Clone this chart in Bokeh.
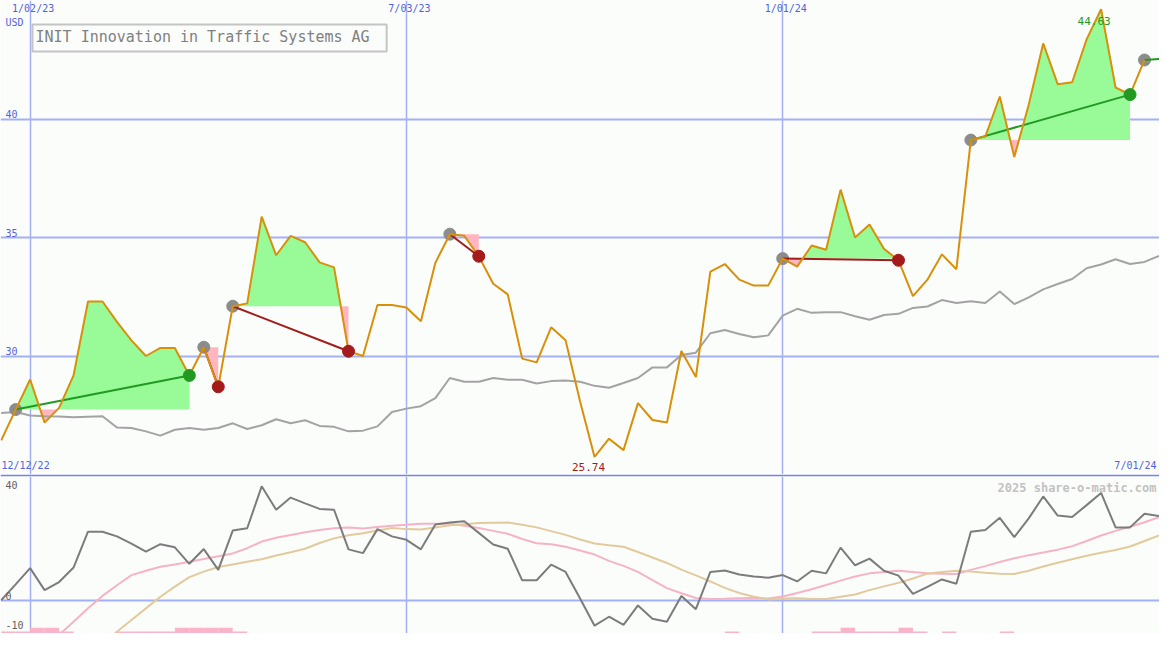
import numpy as np
import pandas as pd
from bokeh.plotting import figure
from bokeh.layouts import column
from bokeh.models import Range1d, FixedTicker, Label
from bokeh.core.properties import value
from bokeh.embed import file_html
from bokeh.resources import INLINE

# ---------------- data ----------------
weeks = pd.date_range("2022-12-19", periods=81, freq="7D")   # weekly dates, last = 2024-07-01

price = [26.44, 27.74, 29.01, 27.19, 27.81, 29.18, 32.30, 32.30, 31.44, 30.66,
         30.00, 30.34, 30.34, 29.18, 30.37, 28.70, 32.10, 32.22, 35.88, 34.25,
         35.07, 34.80, 33.95, 33.74, 30.20, 30.00, 32.15, 32.15, 32.05, 31.47,
         33.93, 35.14, 35.07, 34.21, 33.05, 32.60, 29.89, 29.73, 31.21, 30.66,
         28.08, 25.74, 26.51, 26.03, 28.01, 27.30, 27.19, 30.21, 29.11, 33.56,
         33.88, 33.22, 32.97, 32.97, 34.11, 33.77, 34.66, 34.48, 37.02, 35.00,
         35.55, 34.52, 34.04, 32.53, 33.22, 34.29, 33.66, 39.11, 39.26, 40.95,
         38.40, 40.60, 43.19, 41.47, 41.55, 43.36, 44.63, 41.33, 41.03, 42.49]

compare = [27.60, 27.64, 27.49, 27.46, 27.45, 27.42, 27.44, 27.46, 26.98, 26.96,
           26.82, 26.64, 26.89, 26.96, 26.89, 26.96, 27.16, 26.92, 27.08, 27.33,
           27.16, 27.29, 27.05, 27.01, 26.82, 26.85, 27.03, 27.64, 27.78, 27.88,
           28.22, 29.07, 28.91, 28.91, 29.07, 29.00, 29.00, 28.84, 28.94, 28.97,
           28.91, 28.74, 28.66, 28.86, 29.07, 29.52, 29.52, 30.04, 30.14, 30.96,
           31.10, 30.93, 30.79, 30.87, 31.70, 31.99, 31.82, 31.85, 31.85, 31.68,
           31.53, 31.73, 31.78, 32.03, 32.09, 32.36, 32.24, 32.31, 32.24, 32.72,
           32.19, 32.47, 32.81, 33.04, 33.25, 33.70, 33.86, 34.08, 33.88, 33.97,
           34.22]

osc = [0.0, 5.5, 11.1, 3.5, 6.3, 11.3, 23.7, 23.7, 22.1, 19.6,
       16.8, 19.4, 18.3, 12.6, 17.7, 10.5, 24.1, 24.9, 39.4, 31.3,
       35.5, 33.5, 31.6, 31.3, 17.6, 16.3, 24.6, 22.1, 20.9, 17.6,
       26.2, 26.9, 27.3, 23.3, 19.3, 17.8, 6.9, 6.9, 12.3, 9.8,
       0.6, -8.8, -5.7, -8.5, -1.8, -6.4, -7.4, 1.5, -3.1, 9.8,
       10.3, 8.9, 8.2, 7.8, 8.7, 6.5, 10.2, 9.3, 18.2, 12.1,
       14.4, 10.2, 8.5, 2.2, 4.6, 7.2, 5.7, 23.7, 24.3, 28.5,
       21.8, 28.3, 35.9, 29.3, 28.8, 32.9, 37.1, 25.2, 25.2, 29.9,
       29.1]

ma_fast = [-30.0, -25.5, -21.0, -16.5, -12.0, -7.4, -2.8, 1.5, 5.2, 8.7,
           10.2, 11.6, 12.4, 13.3, 14.3, 15.2, 16.2, 18.0, 20.3, 21.6,
           22.6, 23.5, 24.3, 24.9, 25.2, 24.8, 25.3, 25.8, 26.1, 26.5,
           26.5, 26.5, 25.8, 25.0, 24.0, 23.0, 21.2, 19.7, 19.4, 18.5,
           17.2, 15.8, 13.6, 11.9, 9.8, 7.0, 4.2, 2.4, 0.8, 0.4,
           0.5, 0.7, 0.8, 0.6, 1.3, 2.5, 3.8, 5.3, 6.8, 8.2,
           9.3, 9.8, 10.2, 9.8, 9.3, 9.2, 9.1, 10.5, 11.8, 13.2,
           14.5, 15.6, 16.5, 17.5, 18.7, 20.5, 22.4, 24.0, 25.4, 27.0,
           28.7]

ma_slow = [-43.0, -39.3, -35.3, -31.2, -27.2, -23.1, -19.0, -15.0, -10.9, -6.8,
           -2.8, 1.2, 4.7, 8.0, 9.9, 11.5, 12.4, 13.3, 14.2, 15.5,
           16.6, 17.8, 19.8, 21.4, 22.5, 23.2, 24.1, 25.0, 24.6, 24.5,
           25.2, 25.9, 26.3, 26.7, 26.8, 26.9, 26.1, 25.2, 23.9, 22.6,
           21.0, 19.6, 19.0, 18.5, 16.7, 14.8, 12.9, 10.6, 8.6, 6.5,
           4.3, 2.5, 1.2, 0.3, 0.6, 0.7, 0.4, 0.4, 1.2, 2.0,
           3.5, 4.8, 6.0, 7.5, 9.2, 9.8, 10.2, 9.9, 9.5, 9.2,
           9.1, 10.2, 11.7, 13.0, 14.2, 15.4, 16.4, 17.4, 18.6, 20.5,
           22.4]

signal = [0.7, 0.7, 2.0, 2.0, 0.7, 0, 0, 0, 0.7, 0.7,
          0.7, 0.7, 2.0, 2.0, 2.0, 2.0, 0.7, 0, 0, 0,
          0, 0, 0, 0, 0, 0, 0, 0, 0, 0,
          0, 0, 0, 0, 0, 0, 0, 0, 0, 0,
          0, 0, 0, 0, 0, 0, 0, 0, 0, 0,
          0.7, 0, 0, 0, 0, 0, 0.7, 0.7, 2.0, 0.7,
          0.7, 0.7, 2.0, 0.7, 0, 0.7, 0, 0, 0, 0.7,
          0, 0, 0, 0, 0, 0, 0, 0, 0, 0,
          0]

entry_dates = ["2022-12-26", "2023-03-27", "2023-04-10", "2023-07-24",
               "2024-01-01", "2024-04-01", "2024-06-24"]
exit_dates = ["2023-03-20", "2023-04-03", "2023-06-05", "2023-08-07",
              "2024-02-26", "2024-06-17"]
open_mark = 42.53          # open position's level at the right edge

grid_dates = ["2023-01-02", "2023-07-03", "2024-01-01"]
price_ticks = [30, 35, 40]
osc_ticks = [40, 0, -10]
title = "INIT Innovation in Traffic Systems AG"
currency = "USD"
range_start_label = "12/12/22"
range_end_label = "7/01/24"
credit = "2025 share-o-matic.com"

# ---------------- styling ----------------
BG = "#FBFDFB"
GRID = "#A3B0F3"
BLUE_TXT = "#5262DC"
ORANGE = "#D8900A"
GREEN_FILL = "#98FB98"
PINK_FILL = "#FFB6C1"
GREEN = "#229A22"
RED = "#A31B1B"
MONO = value("DejaVu Sans Mono")

W = 1159
H1 = 474
H2 = 159


def ms(d):
    return pd.Timestamp(d).value / 1e6


DAY = 86400000.0
xs = np.array([ms(d) for d in weeks])
px = xs[:len(price)]
pr = np.array(price)
x_start = xs[0] - 0.33 * DAY
x_end = xs[-1] + 0.25 * DAY


def idx(d):
    return int(np.argmin(np.abs(xs - ms(d))))


def base_fig(height, yr):
    p = figure(width=W, height=height, x_range=Range1d(x_start, x_end), y_range=yr,
               x_axis_type="datetime", x_axis_location=None, y_axis_location=None,
               output_backend="svg", toolbar_location=None, min_border=0,
               background_fill_color=BG, border_fill_color=BG, outline_line_color=None)
    p.xgrid.ticker = FixedTicker(ticks=[ms(d) for d in grid_dates])
    p.xgrid.grid_line_color = GRID
    p.xgrid.grid_line_width = 1.5
    p.ygrid.grid_line_color = GRID
    p.ygrid.grid_line_width = 2
    return p


# ---------------- top panel ----------------
p1 = base_fig(H1, Range1d(25, 45))
p1.ygrid.ticker = FixedTicker(ticks=price_ticks)

# trade fills
for e, x_ in zip(entry_dates[:-1], exit_dates):
    i0, i1 = idx(e), idx(x_)
    level = pr[i0]
    fx, fy = [], []
    for i in range(i0, i1 + 1):
        if i > i0:
            a, b = pr[i - 1] - level, pr[i] - level
            if a * b < 0:
                t = a / (a - b)
                fx.append(px[i - 1] + t * (px[i] - px[i - 1]))
                fy.append(level)
        fx.append(px[i])
        fy.append(pr[i])
    fx = np.array(fx)
    fy = np.array(fy)
    lv = np.full_like(fy, level)
    p1.varea(x=fx, y1=lv, y2=np.maximum(fy, lv), fill_color=GREEN_FILL)
    p1.varea(x=fx, y1=np.minimum(fy, lv), y2=lv, fill_color=PINK_FILL)

# comparison line
p1.line(xs, compare, line_color="#A3A3A3", line_width=2)

# entry markers
ent_x = [px[idx(d)] for d in entry_dates]
ent_y = [pr[idx(d)] for d in entry_dates]
p1.scatter(ent_x, ent_y, size=12, fill_color="#8C8C8C", line_color="#8C8C8C")

# trend lines
ex_x = [px[idx(d)] for d in exit_dates] + [xs[-1]]
ex_y = [pr[idx(d)] for d in exit_dates] + [open_mark]
seg_col = [GREEN if b >= a else RED for a, b in zip(ent_y, ex_y)]
p1.segment(ent_x, ent_y, ex_x, ex_y, line_color=seg_col, line_width=2)

# price
p1.line(px, pr, line_color=ORANGE, line_width=2)

# exit markers
p1.scatter(ex_x[:-1], ex_y[:-1], size=12, fill_color=seg_col[:-1], line_color=seg_col[:-1])

# high / low labels
i_hi, i_lo = int(np.argmax(pr)), int(np.argmin(pr))
p1.text([px[i_hi]], [pr[i_hi]], text=[f"{pr[i_hi]:.2f}"], text_font=MONO, text_font_size="11px",
        text_color=GREEN, text_align="center", text_baseline="top", x_offset=-7, y_offset=8)
p1.text([px[i_lo]], [pr[i_lo]], text=[f"{pr[i_lo]:.2f}"], text_font=MONO, text_font_size="11px",
        text_color=RED, text_align="center", text_baseline="top", x_offset=-6, y_offset=6)

# date labels at top
date_txt = [f"{pd.Timestamp(d).month}/{pd.Timestamp(d).day:02d}/{pd.Timestamp(d):%y}" for d in grid_dates]
p1.text([ms(d) for d in grid_dates], [45] * len(grid_dates), text=date_txt, text_font=MONO,
        text_font_size="10px", text_color=BLUE_TXT, text_align="center", text_baseline="top",
        x_offset=3, y_offset=2)

# price axis labels
p1.text([x_start] * len(price_ticks), price_ticks, text=[str(t) for t in price_ticks], text_font=MONO,
        text_font_size="10px", text_color=BLUE_TXT, text_align="left", text_baseline="bottom",
        x_offset=5, y_offset=-1)
p1.text([x_start], [45], text=[currency], text_font=MONO, text_font_size="10px", text_color=BLUE_TXT,
        text_align="left", text_baseline="top", x_offset=5, y_offset=16)

# period labels
p1.text([x_start], [25], text=[range_start_label], text_font=MONO, text_font_size="10px",
        text_color=BLUE_TXT, text_align="left", text_baseline="bottom", x_offset=1, y_offset=-4)
p1.text([x_end], [25], text=[range_end_label], text_font=MONO, text_font_size="10px",
        text_color=BLUE_TXT, text_align="right", text_baseline="bottom", x_offset=-3, y_offset=-4)

# title box
p1.add_layout(Label(x=x_start, y=45, x_offset=32, y_offset=-24, text=title, text_font="DejaVu Sans Mono",
                    text_font_size="15px", text_color="#808080", text_baseline="top",
                    border_line_color="#C4C4C4", border_line_width=2, background_fill_color=BG,
                    padding=(3, 17, 3, 6)))

# ---------------- bottom panel ----------------
p2 = base_fig(H2, Range1d(-11.5, 42.8))
p2.min_border_top = 2
p2.border_fill_color = "#7383EE"
p2.ygrid.ticker = FixedTicker(ticks=[0])

sig = np.array(signal)
p2.vbar(x=xs + 3.5 * DAY, width=7 * DAY, bottom=-11.5, top=-11.5 + sig,
        fill_color="#F9B4C9", line_color=None)
p2.line(xs, ma_fast, line_color="#F7B3C6", line_width=2)
p2.line(xs, ma_slow, line_color="#E3CA9C", line_width=2)
p2.line(xs, osc, line_color="#7C7C7C", line_width=2)

p2.text([x_start], [osc_ticks[0]], text=[str(osc_ticks[0])], text_font=MONO, text_font_size="10px",
        text_color="#606060", text_align="left", text_baseline="bottom", x_offset=5, y_offset=4)
p2.text([x_start] * 2, osc_ticks[1:], text=[str(t) for t in osc_ticks[1:]], text_font=MONO,
        text_font_size="10px", text_color="#606060", text_align="left", text_baseline="bottom",
        x_offset=5, y_offset=0)
p2.text([x_end], [42.8], text=[credit], text_font=MONO, text_font_size="12px", text_font_style="bold",
        text_color="#C2C2C2", text_align="right", text_baseline="top", x_offset=-3, y_offset=4)

layout = column(p1, p2, spacing=0)
open("out.html", "w").write(file_html(layout, INLINE))
